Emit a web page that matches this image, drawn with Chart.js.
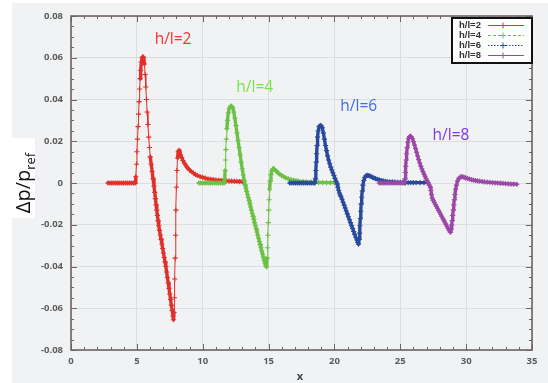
<!DOCTYPE html>
<html>
<head>
<meta charset="utf-8">
<script src="https://cdn.jsdelivr.net/npm/chart.js@4.4.1/dist/chart.umd.min.js"></script>
<style>
  html, body { margin: 0; padding: 0; background: #fff; }
  canvas { display: block; }
</style>
</head>
<body>
<canvas id="c" width="548" height="383"></canvas>
<script>
// pressure signal along x, one [x, dp/pref] list per h/l case
const hl2 = [
  [2.8,0],[2.95,0],[3.1,0],[3.25,0],[3.4,0],[3.55,0],[3.7,0],[3.85,0],[4.0,0],[4.15,0],[4.3,0],[4.45,0],[4.6,0],[4.75,0],[4.87,0],
  [4.92,0.003],[4.97,0.009],[5.01,0.015],[5.05,0.021],[5.09,0.027],[5.13,0.033],[5.17,0.039],[5.21,0.045],[5.25,0.050],[5.29,0.054],[5.34,0.058],[5.40,0.060],[5.46,0.0605],
  [5.52,0.060],[5.58,0.057],[5.63,0.052],[5.68,0.046],[5.73,0.040],[5.78,0.034],[5.84,0.028],[5.90,0.022],[5.96,0.017],[6.02,0.0125],[6.09,0.009],[6.16,0.0055],[6.23,0.002],
  [6.30,-0.0015],[6.36,-0.0045],[6.41,-0.0075],[6.46,-0.0105],[6.51,-0.013],[6.56,-0.0155],[6.61,-0.018],[6.66,-0.0205],[6.72,-0.0227],[6.78,-0.0249],[6.84,-0.027],[6.90,-0.0292],
  [6.96,-0.0314],[7.02,-0.0335],[7.08,-0.0357],[7.14,-0.0379],[7.20,-0.040],[7.26,-0.0426],[7.32,-0.0453],[7.38,-0.0479],[7.44,-0.0505],[7.50,-0.0532],[7.56,-0.0558],
  [7.62,-0.0585],[7.68,-0.0611],[7.74,-0.0637],[7.78,-0.0655],
  [7.82,-0.062],[7.85,-0.055],[7.88,-0.046],[7.91,-0.036],[7.94,-0.025],[7.97,-0.013],[8.0,-0.002],[8.04,0.006],[8.09,0.012],[8.14,0.015],[8.2,0.0157],
  [8.25,0.0148],[8.32,0.0135],[8.4,0.0122],[8.5,0.0108],[8.6,0.0096],[8.7,0.0086],[8.8,0.0077],[8.9,0.0069],[9.0,0.0062],[9.15,0.0054],[9.3,0.0047],[9.45,0.0041],
  [9.6,0.0036],[9.8,0.0031],[10.0,0.0027],[10.2,0.0023],[10.4,0.002],[10.6,0.0018],[10.8,0.0016],[11.0,0.0014],[11.2,0.0013],[11.4,0.0012],[11.6,0.0011],
  [11.8,0.001],[12.0,0.0009],[12.2,0.0009],[12.4,0.0008],[12.6,0.0008],[12.8,0.0007],[13.0,0.0007],[13.1,0.0007]
];
const hl4 = [
  [9.7,0],[9.85,0],[10.0,0],[10.15,0],[10.3,0],[10.45,0],[10.6,0],[10.75,0],[10.9,0],[11.05,0],[11.2,0],[11.35,0],[11.5,0],[11.62,0],
  [11.67,0.002],[11.7,0.006],[11.73,0.011],[11.76,0.016],[11.79,0.021],[11.83,0.026],[11.88,0.030],[11.94,0.0335],[12.01,0.0357],[12.1,0.0367],[12.2,0.0368],
  [12.28,0.036],[12.36,0.034],[12.44,0.031],[12.52,0.0275],[12.6,0.024],[12.68,0.0205],[12.76,0.017],[12.84,0.0135],[12.92,0.010],[13.0,0.0068],[13.08,0.0038],[13.16,0.001],
  [13.22,-0.001],[13.28,-0.0025],[13.34,-0.004],[13.40,-0.0055],[13.46,-0.007],[13.52,-0.0085],[13.58,-0.01],[13.64,-0.0115],[13.70,-0.013],[13.76,-0.0145],[13.82,-0.016],
  [13.88,-0.0175],[13.94,-0.019],[14.00,-0.0205],[14.06,-0.022],[14.12,-0.0235],[14.18,-0.025],[14.24,-0.0265],[14.30,-0.028],[14.36,-0.0295],[14.42,-0.031],[14.48,-0.0325],
  [14.54,-0.034],[14.60,-0.0355],[14.66,-0.037],[14.72,-0.0383],[14.78,-0.0394],[14.84,-0.0402],
  [14.89,-0.036],[14.92,-0.031],[14.95,-0.025],[14.98,-0.019],[15.01,-0.013],[15.04,-0.008],[15.08,-0.003],[15.12,0.001],[15.18,0.004],[15.25,0.006],[15.32,0.0068],[15.38,0.0069],
  [15.45,0.0065],[15.55,0.0059],[15.65,0.0053],[15.75,0.0047],[15.85,0.0042],[16.0,0.0036],[16.15,0.003],[16.3,0.0025],[16.5,0.002],[16.7,0.0016],[16.9,0.0013],[17.1,0.0011],
  [17.3,0.0009],[17.6,0.0007],[17.9,0.0005],[18.2,0.0004],[18.5,0.0003],[18.8,0.0003],[19.1,0.0002],[19.4,0.0002],[19.7,0.0002],[20.0,0.0002],[20.15,0.0002]
];
const hl6 = [
  [16.6,0],[16.75,0],[16.9,0],[17.05,0],[17.2,0],[17.35,0],[17.5,0],[17.65,0],[17.8,0],[17.95,0],[18.1,0],[18.25,0],[18.4,0],[18.52,0],
  [18.56,0.002],[18.59,0.006],[18.62,0.010],[18.65,0.014],[18.68,0.018],[18.72,0.022],[18.77,0.025],[18.84,0.027],[18.92,0.0276],[19.0,0.0274],
  [19.08,0.0265],[19.16,0.024],[19.24,0.021],[19.32,0.018],[19.4,0.0155],[19.48,0.013],[19.56,0.011],[19.64,0.0092],[19.72,0.0076],[19.8,0.0062],[19.88,0.0049],[19.96,0.0036],
  [20.04,0.0022],[20.12,0.0009],[20.2,-0.0005],[20.26,-0.002],[20.32,-0.0035],[20.38,-0.0048],[20.44,-0.0058],[20.5,-0.0066],[20.58,-0.0078],[20.66,-0.0092],[20.74,-0.0106],
  [20.82,-0.012],[20.9,-0.0134],[20.98,-0.0148],[21.06,-0.0162],[21.14,-0.0176],[21.22,-0.019],[21.3,-0.0204],[21.38,-0.0218],[21.46,-0.0232],[21.54,-0.0246],[21.62,-0.026],
  [21.7,-0.0273],[21.77,-0.0285],[21.83,-0.0293],
  [21.88,-0.027],[21.91,-0.024],[21.94,-0.0205],[21.97,-0.017],[22.0,-0.0135],[22.03,-0.010],[22.07,-0.0068],[22.11,-0.0038],[22.16,-0.001],[22.23,0.0012],[22.31,0.0027],
  [22.4,0.0035],[22.5,0.0037],[22.6,0.0036],
  [22.7,0.0033],[22.8,0.003],[22.9,0.0027],[23.0,0.0024],[23.12,0.0021],[23.25,0.0018],[23.4,0.0015],[23.55,0.0012],[23.7,0.001],[23.85,0.0008],[24.0,0.0007],[24.2,0.0006],
  [24.4,0.0005],[24.6,0.0004],[24.8,0.0003],[25.0,0.0003],[25.2,0.0003],[25.4,0.0002],[25.6,0.0002],[25.8,0.0002],[26.0,0.0002],[26.2,0.0002],[26.5,0.0002],[26.8,0.0002],[27.1,0.0002]
];
const hl8 = [
  [23.4,0],[23.55,0],[23.7,0],[23.85,0],[24.0,0],[24.15,0],[24.3,0],[24.45,0],[24.6,0],[24.75,0],[24.9,0],[25.05,0],[25.2,0],[25.32,0],
  [25.36,0.002],[25.39,0.005],[25.42,0.008],[25.45,0.011],[25.48,0.014],[25.52,0.017],[25.57,0.0195],[25.63,0.0213],[25.7,0.0222],[25.77,0.0224],[25.84,0.0221],
  [25.92,0.0213],[26.0,0.0199],[26.08,0.0182],[26.16,0.0165],[26.24,0.0147],[26.32,0.0129],[26.4,0.0112],[26.48,0.0096],[26.56,0.0081],[26.64,0.0067],[26.72,0.0055],
  [26.8,0.0043],[26.88,0.0032],[26.96,0.0021],[27.04,0.001],[27.12,0.0],[27.2,-0.001],[27.28,-0.002],[27.33,-0.0035],[27.37,-0.0055],[27.43,-0.0073],[27.5,-0.0083],
  [27.58,-0.0093],[27.66,-0.0103],[27.74,-0.0112],[27.82,-0.0121],[27.9,-0.0131],[27.98,-0.014],[28.06,-0.015],[28.14,-0.0159],[28.22,-0.0169],[28.3,-0.0178],[28.38,-0.0188],
  [28.46,-0.0197],[28.54,-0.0207],[28.62,-0.0216],[28.7,-0.0226],[28.78,-0.0234],[28.82,-0.0236],
  [28.86,-0.0222],[28.9,-0.0202],[28.94,-0.018],[28.98,-0.0155],[29.02,-0.013],[29.06,-0.0105],[29.1,-0.008],[29.15,-0.0055],[29.2,-0.003],[29.27,-0.001],[29.35,0.001],
  [29.45,0.0022],[29.55,0.0028],[29.65,0.003],
  [29.75,0.0029],[29.85,0.0027],[29.95,0.0025],[30.1,0.0022],[30.25,0.0019],[30.4,0.0016],[30.55,0.0014],[30.7,0.0012],[30.85,0.001],[31.0,0.0009],[31.2,0.0007],[31.4,0.0005],
  [31.6,0.0004],[31.8,0.0003],[32.0,0.0002],[32.2,0.0001],[32.4,0.0],[32.6,-0.0001],[32.8,-0.0002],[33.0,-0.0003],[33.2,-0.0004],[33.4,-0.0005],[33.6,-0.0005],[33.85,-0.0006]
];
const seriesNames = ['h/l=2', 'h/l=4', 'h/l=6', 'h/l=8'];
const xTicks = [0, 5, 10, 15, 20, 25, 30, 35];
const yTicks = [-0.08, -0.06, -0.04, -0.02, 0, 0.02, 0.04, 0.06, 0.08];

const lineColors = ['#e0302a', '#6cc146', '#294a9c', '#9a48a6'];
const textColors = ['#ff2f2f', '#7be14b', '#3d6cf0', '#7a38f0'];
const legendDash = [[], [3, 2], [1.5, 1.5], []];
// where the in-plot case labels sit (data units, left/middle anchor)
const labelAt = [[6.35, 0.0685], [12.55, 0.0455], [20.45, 0.0368], [27.45, 0.0225]];

const BG = '#f1f2f3', FRAME = '#6f6363', GRID = '#dcdddf', TICKTXT = '#5c5c5c';

// densely sampled stretches look like a thick band, sparse ones like a thin line
const segWidth = (c) => (Math.hypot(c.p1.x - c.p0.x, c.p1.y - c.p0.y) > 9 ? 1 : 3.4);

const frame = {
  id: 'frame',
  beforeDraw(chart) {
    const { ctx, width, height } = chart;
    ctx.save();
    ctx.fillStyle = '#fff'; ctx.fillRect(0, 0, width, height);
    ctx.fillStyle = BG; ctx.fillRect(12, 3, width - 12, height - 3);
    ctx.restore();
  },
  afterDraw(chart) {
    const { ctx, chartArea: a, scales: { x, y } } = chart;
    ctx.save();
    // inward ticks on all four sides
    ctx.strokeStyle = FRAME; ctx.lineWidth = 1;
    ctx.beginPath();
    for (let v = 0; v <= 35.001; v += 1) {
      const px = Math.round(x.getPixelForValue(v)) + 0.5, L = v % 5 === 0 ? 6 : 3;
      ctx.moveTo(px, a.bottom); ctx.lineTo(px, a.bottom - L);
      ctx.moveTo(px, a.top); ctx.lineTo(px, a.top + L);
    }
    for (let i = -16; i <= 16; i++) {
      const py = Math.round(y.getPixelForValue(i * 0.005)) + 0.5, L = i % 4 === 0 ? 6 : 3;
      ctx.moveTo(a.left, py); ctx.lineTo(a.left + L, py);
      ctx.moveTo(a.right, py); ctx.lineTo(a.right - L, py);
    }
    ctx.stroke();
    ctx.lineWidth = 1.6;
    ctx.strokeRect(a.left, a.top, a.right - a.left, a.bottom - a.top);

    // case labels in the plot
    ctx.font = '15.5px "Open Sans", sans-serif';
    ctx.textBaseline = 'middle'; ctx.textAlign = 'left';
    labelAt.forEach(([lx, ly], i) => {
      ctx.fillStyle = textColors[i];
      ctx.fillText(seriesNames[i], x.getPixelForValue(lx), y.getPixelForValue(ly));
    });

    // legend box, top right
    const lx0 = 452, ly0 = 18, lw = 80, lh = 45;
    ctx.fillStyle = '#fff'; ctx.fillRect(lx0, ly0, lw, lh);
    ctx.strokeStyle = '#111'; ctx.lineWidth = 2; ctx.strokeRect(lx0, ly0, lw, lh);
    ctx.font = 'bold 9.5px "Liberation Sans", sans-serif';
    seriesNames.forEach((n, i) => {
      const ry = ly0 + 7 + i * 10;
      ctx.fillStyle = '#333'; ctx.textAlign = 'left'; ctx.fillText(n, lx0 + 7, ry);
      ctx.strokeStyle = lineColors[i]; ctx.lineWidth = 1; ctx.setLineDash(legendDash[i]);
      ctx.beginPath(); ctx.moveTo(lx0 + 36, ry + 0.5); ctx.lineTo(lx0 + 72, ry + 0.5); ctx.stroke();
      ctx.setLineDash([]);
      ctx.beginPath(); ctx.moveTo(lx0 + 51, ry - 2.5); ctx.lineTo(lx0 + 51, ry + 3.5);
      ctx.moveTo(lx0 + 48, ry + 0.5); ctx.lineTo(lx0 + 54, ry + 0.5); ctx.stroke();
    });

    // axis titles
    ctx.fillStyle = '#444'; ctx.textAlign = 'center'; ctx.textBaseline = 'middle';
    ctx.font = 'bold 11px "Open Sans", sans-serif';
    ctx.fillText('x', 300, 377);

    ctx.fillStyle = '#fff'; ctx.fillRect(12, 138, 23, 80);
    ctx.translate(30, 183); ctx.rotate(-Math.PI / 2);
    ctx.fillStyle = '#111'; ctx.textBaseline = 'alphabetic'; ctx.textAlign = 'left';
    const main = 'Δp/p', sub = 'ref';
    ctx.font = '20px "Open Sans", sans-serif';
    const mw = ctx.measureText(main).width;
    ctx.font = '13px "Open Sans", sans-serif';
    const sw = ctx.measureText(sub).width;
    const x0 = -(mw + sw) / 2;
    ctx.font = '20px "Open Sans", sans-serif'; ctx.fillText(main, x0, 0);
    ctx.font = '13px "Open Sans", sans-serif'; ctx.fillText(sub, x0 + mw, 5);
    ctx.restore();
  }
};

const toPts = (arr) => arr.map(([px, py]) => ({ x: px, y: py }));
const series = [hl2, hl4, hl6, hl8];

new Chart(document.getElementById('c'), {
  type: 'line',
  data: {
    datasets: series.map((s, i) => ({
      label: seriesNames[i],
      data: toPts(s),
      borderColor: lineColors[i],
      backgroundColor: lineColors[i],
      borderWidth: 1,
      borderJoinStyle: 'round',
      borderCapStyle: 'round',
      segment: { borderWidth: segWidth },
      pointStyle: 'cross',
      pointRadius: 2.6,
      pointBorderWidth: 1.1,
      tension: 0,
      fill: false,
      order: 4 - i, // later cases painted over earlier ones
    })),
  },
  options: {
    responsive: false,
    animation: false,
    events: [],
    layout: { padding: { left: 0, right: 16, top: 16, bottom: 0 } },
    plugins: { legend: { display: false }, tooltip: { enabled: false } },
    scales: {
      x: {
        type: 'linear', min: 0, max: 35,
        afterBuildTicks: (s) => { s.ticks = xTicks.map((v) => ({ value: v })); },
        afterFit: (s) => { s.height = 33; s.paddingLeft = 0; s.paddingRight = 0; },
        grid: { color: GRID, drawTicks: false },
        border: { display: false },
        ticks: { padding: 6, color: TICKTXT, maxRotation: 0, font: { family: 'Open Sans', size: 9.5, weight: 'bold' } },
      },
      y: {
        type: 'linear', min: -0.08, max: 0.08,
        afterBuildTicks: (s) => { s.ticks = yTicks.map((v) => ({ value: v })); },
        afterFit: (s) => { s.width = 71; s.paddingTop = 0; s.paddingBottom = 0; },
        grid: { color: GRID, drawTicks: false },
        border: { display: false },
        ticks: {
          padding: 8, color: TICKTXT, font: { family: 'Open Sans', size: 9.5, weight: 'bold' },
          callback: (v) => (Math.abs(v) < 1e-9 ? '0' : v.toFixed(2)),
        },
      },
    },
  },
  plugins: [frame],
});
</script>
</body>
</html>
